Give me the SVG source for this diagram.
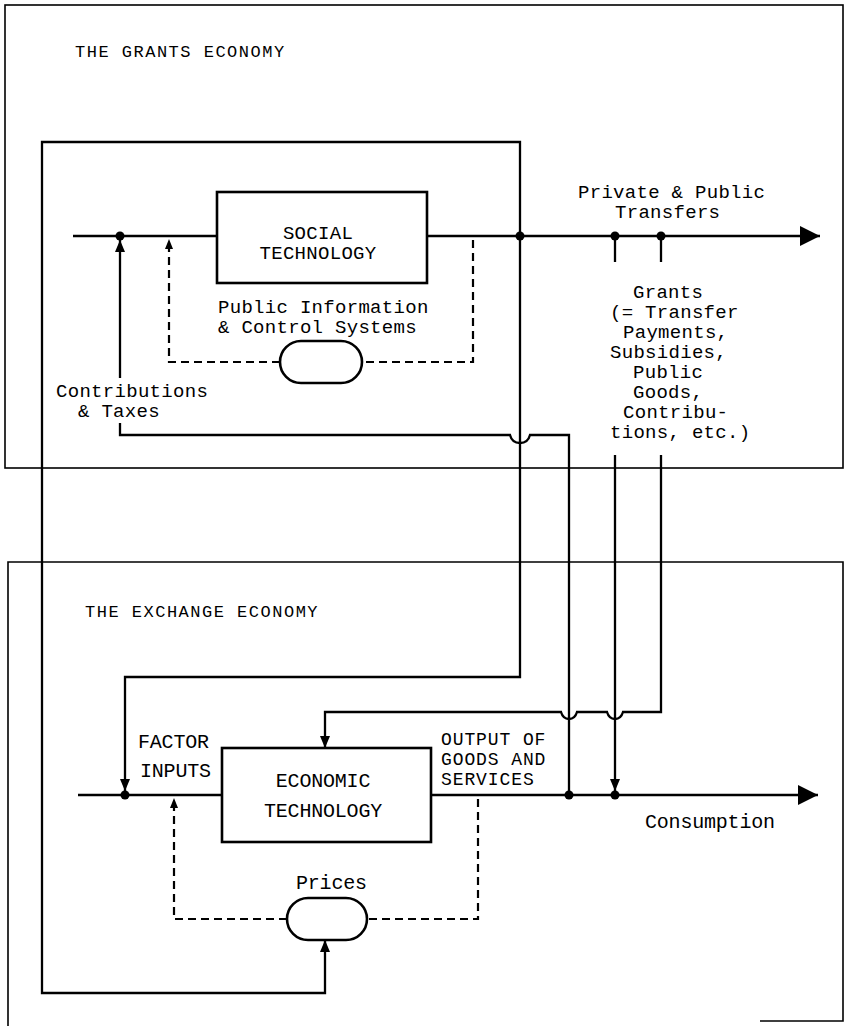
<svg xmlns="http://www.w3.org/2000/svg" width="850" height="1026" viewBox="0 0 850 1026">
<style>
.t{font-family:"Liberation Mono","Courier New",monospace;font-size:19px;letter-spacing:0.3px;fill:#000}
.tt{font-family:"Liberation Mono","Courier New",monospace;font-size:17px;letter-spacing:1.5px;fill:#000}
.t2{font-family:"Liberation Mono","Courier New",monospace;font-size:20px;letter-spacing:-0.2px;fill:#000}
.t3{font-family:"Liberation Mono","Courier New",monospace;font-size:18px;letter-spacing:0.9px;fill:#000}
.ln{fill:none;stroke:#000;stroke-width:2.3}
.ds{fill:none;stroke:#000;stroke-width:2.2;stroke-dasharray:8 5}
.bx{fill:#fff;stroke:#000;stroke-width:2.6}
.fr{fill:none;stroke:#000;stroke-width:1.6}
.dot{fill:#000}
</style>
<defs>
<marker id="ab" markerUnits="userSpaceOnUse" markerWidth="22" markerHeight="22" refX="20" refY="11" orient="auto"><path d="M0,1 L20,11 L0,21 z" fill="#000"/></marker>
<marker id="as" markerUnits="userSpaceOnUse" markerWidth="13" markerHeight="12" refX="12" refY="6" orient="auto"><path d="M0,1 L12,6 L0,11 z" fill="#000"/></marker>
<marker id="ad" markerUnits="userSpaceOnUse" markerWidth="11" markerHeight="10" refX="10" refY="5" orient="auto"><path d="M0,1 L10,5 L0,9 z" fill="#000"/></marker>
</defs>

<g id="grants-economy">
<rect class="fr" x="5" y="5" width="838" height="463"/>
<text class="tt" x="75" y="57">THE GRANTS ECONOMY</text>
</g>

<g id="exchange-economy">
<path class="fr" d="M8 1026 L8 562 L843 562 L843 1021 L760 1021"/>
<text class="tt" x="85" y="617">THE EXCHANGE ECONOMY</text>
</g>

<g id="connectors">
<path class="ln" d="M73 236 L217 236"/>
<path class="ln" d="M427 236 L820 236" marker-end="url(#ab)"/>
<path class="ln" d="M78 795 L222 795"/>
<path class="ln" d="M431 795 L818 795" marker-end="url(#ab)"/>
<path class="ln" d="M520 236 L520 142 L42 142 L42 993 L325 993 L325 940" marker-end="url(#as)"/>
<path class="ln" d="M520 236 L520 677 L125 677 L125 791" marker-end="url(#as)"/>
<path class="ln" d="M569 795 L569 435 L530 435 Q528 443 520 443 Q512 443 510 435 L120 435 L120 423"/>
<path class="ln" d="M120 378 L120 240" marker-end="url(#as)"/>
<path class="ln" d="M615 236 L615 262"/>
<path class="ln" d="M661 236 L661 262"/>
<path class="ln" d="M615 455 L615 791" marker-end="url(#as)"/>
<path class="ln" d="M661 455 L661 712 L623 712 Q621 719 615 719 Q609 719 607 712 L577 712 Q575 719 569 719 Q563 719 561 712 L325 712 L325 748" marker-end="url(#as)"/>
<path class="ds" d="M473 240 L473 362 L362 362"/>
<path class="ds" d="M280 362 L169 362 L169 239" marker-end="url(#ad)"/>
<path class="ds" d="M478 799 L478 919 L367 919"/>
<path class="ds" d="M287 919 L174 919 L174 798" marker-end="url(#ad)"/>
<circle class="dot" cx="120" cy="236" r="4.5"/>
<circle class="dot" cx="520" cy="236" r="4.5"/>
<circle class="dot" cx="615" cy="236" r="4.5"/>
<circle class="dot" cx="661" cy="236" r="4.5"/>
<circle class="dot" cx="125" cy="795" r="4.5"/>
<circle class="dot" cx="569" cy="795" r="4.5"/>
<circle class="dot" cx="615" cy="795" r="4.5"/>
</g>

<g id="social-technology">
<rect class="bx" x="217" y="192" width="210" height="91"/>
<text class="t" x="318" y="239" text-anchor="middle">SOCIAL</text>
<text class="t" x="318" y="259" text-anchor="middle">TECHNOLOGY</text>
</g>

<g id="public-information">
<rect class="bx" x="280" y="341" width="82" height="42" rx="21" ry="21"/>
<text class="t" x="218" y="313">Public Information</text>
<text class="t" x="218" y="333">&amp; Control Systems</text>
</g>

<g id="contributions-label">
<text class="t" x="56" y="397">Contributions</text>
<text class="t" x="78" y="417">&amp; Taxes</text>
</g>

<g id="transfers-label">
<text class="t" x="578" y="198">Private &amp; Public</text>
<text class="t" x="615" y="218">Transfers</text>
</g>

<g id="grants-label">
<text class="t" x="633" y="298">Grants</text>
<text class="t" x="610" y="318">(= Transfer</text>
<text class="t" x="623" y="338">Payments,</text>
<text class="t" x="610" y="358">Subsidies,</text>
<text class="t" x="633" y="378">Public</text>
<text class="t" x="633" y="398">Goods,</text>
<text class="t" x="623" y="418">Contribu-</text>
<text class="t" x="610" y="438">tions, etc.)</text>
</g>

<g id="economic-technology">
<rect class="bx" x="222" y="748" width="209" height="94"/>
<text class="t2" x="323" y="787" text-anchor="middle">ECONOMIC</text>
<text class="t2" x="323" y="817" text-anchor="middle">TECHNOLOGY</text>
</g>

<g id="factor-inputs-label">
<text class="t2" x="138" y="748">FACTOR</text>
<text class="t2" x="140" y="777">INPUTS</text>
</g>

<g id="output-label">
<text class="t3" x="441" y="745">OUTPUT OF</text>
<text class="t3" x="441" y="765">GOODS AND</text>
<text class="t3" x="441" y="785">SERVICES</text>
</g>

<g id="prices">
<rect class="bx" x="287" y="898" width="80" height="42" rx="21" ry="21"/>
<text class="t2" x="296" y="889">Prices</text>
</g>

<g id="consumption-label">
<text class="t2" x="645" y="828">Consumption</text>
</g>
</svg>
